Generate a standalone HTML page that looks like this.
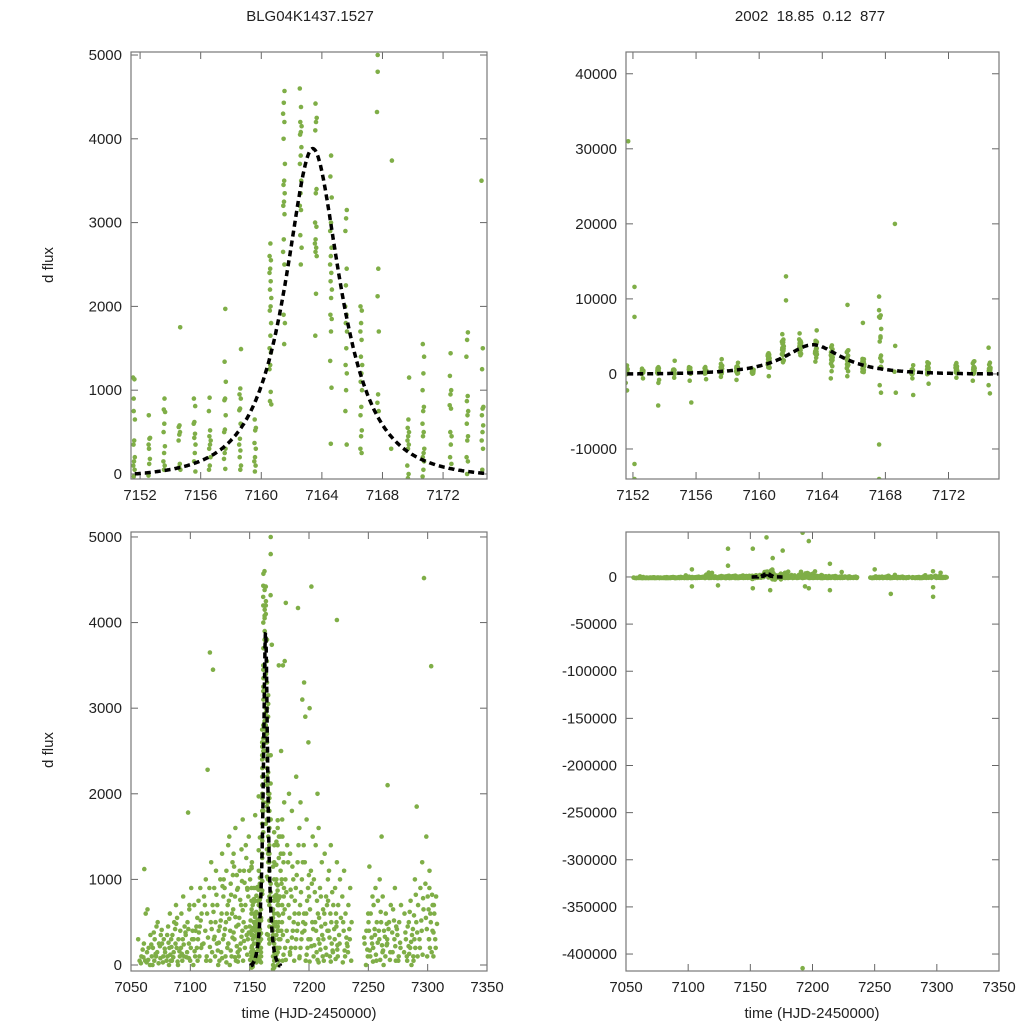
<!DOCTYPE html>
<html><head><meta charset="utf-8"><style>
html,body{margin:0;padding:0;background:#fff;width:1024px;height:1024px;overflow:hidden}
svg{display:block;font-family:"Liberation Sans",sans-serif}
.tl{font-size:15px;fill:#222}
</style></head><body>
<svg id="chart" width="1024" height="1024" viewBox="0 0 1024 1024" xmlns="http://www.w3.org/2000/svg">
<rect width="1024" height="1024" fill="#fff"/>
<text x="310" y="21" text-anchor="middle" class="tl">BLG04K1437.1527</text>
<text x="810" y="21" text-anchor="middle" class="tl" style="white-space:pre">2002  18.85  0.12  877</text>
<text x="48" y="270" text-anchor="middle" class="tl" transform="rotate(-90 48 265)">d flux</text>
<text x="48" y="755" text-anchor="middle" class="tl" transform="rotate(-90 48 750)">d flux</text>
<text x="309" y="1018" text-anchor="middle" class="tl">time (HJD-2450000)</text>
<text x="812" y="1018" text-anchor="middle" class="tl">time (HJD-2450000)</text>
</svg>
<script>
// zoom window nightly data
const zoomNights=[7151.6,7152.6,7153.6,7154.6,7155.6,7156.6,7157.6,7158.6,7159.6,7160.6,7161.5,7162.6,7163.6,7164.6,7165.6,7166.6,7167.7,7168.6,7169.7,7170.7,7172.5,7173.6,7174.6];
const zoomFlux=[
[1150,1130,750,650,400,350,200,150,100,50,-30,-1200,-2200,900],
[700,430,420,350,180,120,-20,-600,300],
[900,770,740,600,500,330,250,150,100,50,-800,-1200],
[1750,580,560,500,470,400,120,80,50,-500],
[900,810,620,600,480,430,350,250,150,30,-900],
[910,750,520,450,400,350,300,200,100,50,-700],
[1970,1340,1100,900,880,700,530,500,300,250,180,60,-400],
[1490,1020,950,900,780,760,600,420,350,280,200,100,50,-800],
[650,550,520,370,300,200,150,100,30],
[2750,2600,2550,2450,2400,2300,2200,2100,2000,1950,1800,1650,1500,1450,1300,1250,980,870,830,-300],
[4570,4430,4300,4200,4000,3700,3500,3450,3350,3250,3200,3100,2800,2650,2500,1900,1800,1550,5300],
[4600,4380,4200,4150,4080,4050,3900,3800,3700,3500,3350,3200,3150,2850,2700,2500,5400],
[4420,4250,4200,4100,3400,3350,3000,2950,2800,2750,2700,2650,2600,2150,1650,5800],
[3800,3550,3300,3000,2900,2700,2600,2500,2400,2300,2200,2100,1900,1850,1700,1350,1030,360,-600],
[3150,3050,2900,2450,2250,2000,1900,1800,1700,1500,1300,1200,1000,750,350,-300],
[2000,1950,1800,1700,1600,1400,1300,1200,1100,1000,800,700,520,450,300,250,6800],
[4800,4320,2450,2120,1700,950,850,750,7800,7500,6000,5000,-1500,-2500],
[3740,300,-2500],
[1150,650,550,500,450,400,350,300,100,0,-50,-2800,-600],
[1550,1400,1200,1000,800,750,600,500,450,300,250,200,150,50,-30,-1300],
[1440,1170,1000,950,820,780,500,450,350,200,120,-500],
[1690,1600,1400,930,870,750,700,600,450,400,200,150,0,-900],
[3500,1500,1250,800,780,700,580,500,400,300,50,-1500,-2600]];
const zoomOutT=[7151.7,7152.1,7152.1,7152.1,7152.1,7153.6,7155.7,7161.7,7161.7,7165.6,7165.6,7167.6,7167.6,7167.6,7167.6,7167.6,7168.6];
const zoomOutF=[31000,11600,7600,-12000,-14000,-4200,-3800,13000,9800,43800,9200,10300,8500,7600,-9400,-14000,20000];
// full season nightly data
const fullNights=[7058,7062,7066,7070,7074,7078,7082,7086,7090,7094,7098,7100,7104,7108,7113,7118,7122,7126,7130,7134,7138,7142,7146,7150,7177,7178,7182,7186,7190,7194,7198,7202,7206,7210,7214,7218,7222,7225,7230,7234,7248,7252,7256,7260,7264,7267,7272,7276,7282,7286,7290,7295,7300,7303,7306];
const fullFlux=[
[300,100,50,180,20],[1120,650,600,250,150,50,90,30],[350,200,100,0,60,240],[450,300,200,100,50,0,130,380],[500,350,250,150,80,20,410,220],
[300,250,150,100,50,190,30],[600,450,300,200,100,50,0,350,120,260],[700,500,350,250,150,50,420,90,210],[550,400,300,200,100,0,480,160,40],
[800,600,450,300,200,100,50,380,240,130],[650,500,350,250,150,50,420,90],[1780,900,700,400,200,80,300],[700,550,400,300,200,100,0,450,160],
[900,750,600,450,300,200,100,50,520,380,240],[2280,1000,800,600,400,250,100,700,320,50],[3650,3450,1200,900,700,500,300,150,50,620,420,210],
[1100,900,700,500,400,250,100,0,820,330,170],[1300,1000,800,600,450,300,150,50,920,520,260,80],[1400,1100,900,700,500,350,200,100,1000,600,420,250,30],
[1500,1200,950,750,600,400,250,100,0,1050,820,540,320,170],[1600,1300,1050,800,650,450,300,150,50,1150,880,560,380,220,90],[1350,1100,900,700,550,400,250,100,980,760,470,330,180,40],
[1700,1400,1100,900,700,500,350,200,50,1250,960,640,440,280,120],[1500,1200,1000,800,600,450,300,150,1100,880,520,380,220,60],[1700,1500,1200,1000,800,600,400,200,50,1300,900,700,300,120],
[3550,3500,2500,1900,1500,1100,800,500,200,1300,950,650,350],[4230,2000,1400,1000,700,400,150,1200,850,550,280,60],[1800,1300,1000,800,600,400,200,50,1150,880,500,320,120],
[4170,2200,1600,1200,900,600,400,200,1400,1050,750,480,300,80],[3300,3100,1900,1400,1000,700,500,300,100,1200,850,600,380,200],[2900,2600,1700,1200,900,600,400,200,50,1050,750,480,300,120],
[4420,3000,1500,1100,800,500,300,100,950,650,420,220,40],[2000,1400,1000,750,500,300,150,850,600,400,230,60],[1600,1200,900,650,450,250,100,800,550,350,180,30],
[1300,1000,800,600,400,200,50,700,480,300,120],[1400,1100,850,600,400,250,100,750,500,320,170,40],[1200,900,700,500,300,150,600,420,230,70],[4030,1000,700,450,250,100,550,350,180],
[1100,800,600,400,250,100,500,320,170,30],[900,700,500,300,150,50,420,220],[600,400,250,100,0,320,180],[1150,800,600,400,250,100,500,320,170,40],[900,700,500,350,200,50,420,260,120],
[1500,1000,750,500,300,150,620,400,230,60],[800,600,400,250,100,0,480,330,170],[2100,700,500,300,150,420,230,60],[900,650,450,300,150,50,520,380,220],[700,500,350,200,100,420,260,50],
[600,450,300,150,50,380,220,100],[750,500,350,200,100,0,620,420,270,130],[1850,1000,700,500,300,100,820,580,380,200,50],[4520,1200,900,650,400,200,780,520,300,120],[1500,1100,800,550,300,100,950,650,420,200],
[3490,900,700,500,300,820,600,380,150],[800,600,400,200,700,480,300,100]];
const fullOutT=[7132,7132,7152,7152,7163,7168,7166,7176,7192,7192,7197,7194,7197,7214,7214,7103,7103,7124,7250,7263,7297,7297];
const fullOutF=[30000,12000,30000,-12000,42000,20000,-14000,28000,47000,-415000,38000,-10000,-12000,14000,-14000,8000,-10000,-9000,8000,-18000,-21000,-11000];
// model parameters: t0, u0, tE, fs, fb
const modelParams=[7163.4,0.5,3.85,3325,-50];

const NS='http://www.w3.org/2000/svg';
const svg=document.getElementById('chart');
function mk(tag,attrs,parent){const e=document.createElementNS(NS,tag);for(const k in attrs)e.setAttribute(k,attrs[k]);(parent||svg).appendChild(e);return e;}
function model(t){const [t0,u0,tE,fs,fb]=modelParams;const d=(t-t0)/tE;const u=Math.sqrt(u0*u0+d*d);const A=(u*u+2)/(u*Math.sqrt(u*u+4));return fs*(A-1)+fb;}

function flat(nights,flux,spread){const T=[],F=[];nights.forEach((t,i)=>flux[i].forEach((f,j)=>{T.push(t+(((j*7+i*3)%11)-5)*spread);F.push(f);}));return [T,F];}
const [zT,zF]=flat(zoomNights,zoomFlux,0.012);
const [fT,fF]=flat(fullNights,fullFlux,0.38);

const panels=[
 {name:'top-left',x0:131,x1:487,y0:52,y1:479,xd:[7151.4,7174.9],yd:[-60,5036],xt:[7152,7156,7160,7164,7168,7172],yt:[0,1000,2000,3000,4000,5000],T:zT.concat(zoomOutT),F:zF.concat(zoomOutF),m:[7151,7176]},
 {name:'top-right',x0:626,x1:999,y0:52,y1:479,xd:[7151.56,7175.2],yd:[-14000,42900],xt:[7152,7156,7160,7164,7168,7172],yt:[-10000,0,10000,20000,30000,40000],T:zT.concat(zoomOutT),F:zF.concat(zoomOutF),m:[7151,7176]},
 {name:'bottom-left',x0:131,x1:487,y0:532,y1:971,xd:[7050,7350],yd:[-70,5058],xt:[7050,7100,7150,7200,7250,7300,7350],yt:[0,1000,2000,3000,4000,5000],T:fT.concat(zT),F:fF.concat(zF),m:[7151,7176]},
 {name:'bottom-right',x0:626,x1:999,y0:532,y1:971,xd:[7050,7350],yd:[-418000,47700],xt:[7050,7100,7150,7200,7250,7300,7350],yt:[0,-50000,-100000,-150000,-200000,-250000,-300000,-350000,-400000],T:fT.concat(zT).concat(fullOutT),F:fF.map(v=>v*1.6-1200).concat(zF).concat(fullOutF),m:[7151,7176]}
];
panels.forEach((p,pi)=>{
 const sx=v=>p.x0+(v-p.xd[0])/(p.xd[1]-p.xd[0])*(p.x1-p.x0);
 const sy=v=>p.y1-(v-p.yd[0])/(p.yd[1]-p.yd[0])*(p.y1-p.y0);
 const g=mk('g',{});
 
 
 const cp=mk('clipPath',{id:'cp'+pi},g);mk('rect',{x:p.x0,y:p.y0,width:p.x1-p.x0,height:p.y1-p.y0},cp);
 p.xt.forEach(v=>{const x=sx(v);
  mk('line',{x1:x,y1:p.y1,x2:x,y2:p.y1-7,stroke:'#666','stroke-width':1},g);
  mk('line',{x1:x,y1:p.y0,x2:x,y2:p.y0+7,stroke:'#666','stroke-width':1},g);
  const t=mk('text',{x:x,y:p.y1+21,'text-anchor':'middle',class:'tl'},g);t.textContent=v;
  
  
 });
 p.yt.forEach(v=>{const y=sy(v);
  mk('line',{x1:p.x0,y1:y,x2:p.x0+7,y2:y,stroke:'#666','stroke-width':1},g);
  mk('line',{x1:p.x1,y1:y,x2:p.x1-7,y2:y,stroke:'#666','stroke-width':1},g);
  const t=mk('text',{x:p.x0-9,y:y+5,'text-anchor':'end',class:'tl'},g);t.textContent=v;
  
  
 });
 const dg=mk('g',{'clip-path':'url(#cp'+pi+')',fill:'#7fae47'},g);
 
 
 p.T.forEach((t,i)=>{mk('circle',{cx:sx(t).toFixed(1),cy:sy(p.F[i]).toFixed(1),r:2.3},dg);});
 let d='';for(let t=p.m[0];t<=p.m[1];t+=0.05){d+=(d?'L':'M')+sx(t).toFixed(1)+','+sy(model(t)).toFixed(1);}
 const path=mk('path',{d:d,fill:'none',stroke:'#000','stroke-width':3.5,'stroke-dasharray':'6,4','clip-path':'url(#cp'+pi+')'},g);
 
 
 const fr=mk('rect',{x:p.x0,y:p.y0,width:p.x1-p.x0,height:p.y1-p.y0,fill:'none',stroke:'#777','stroke-width':1.2},g);
 
 
});
</script>
</body></html>
